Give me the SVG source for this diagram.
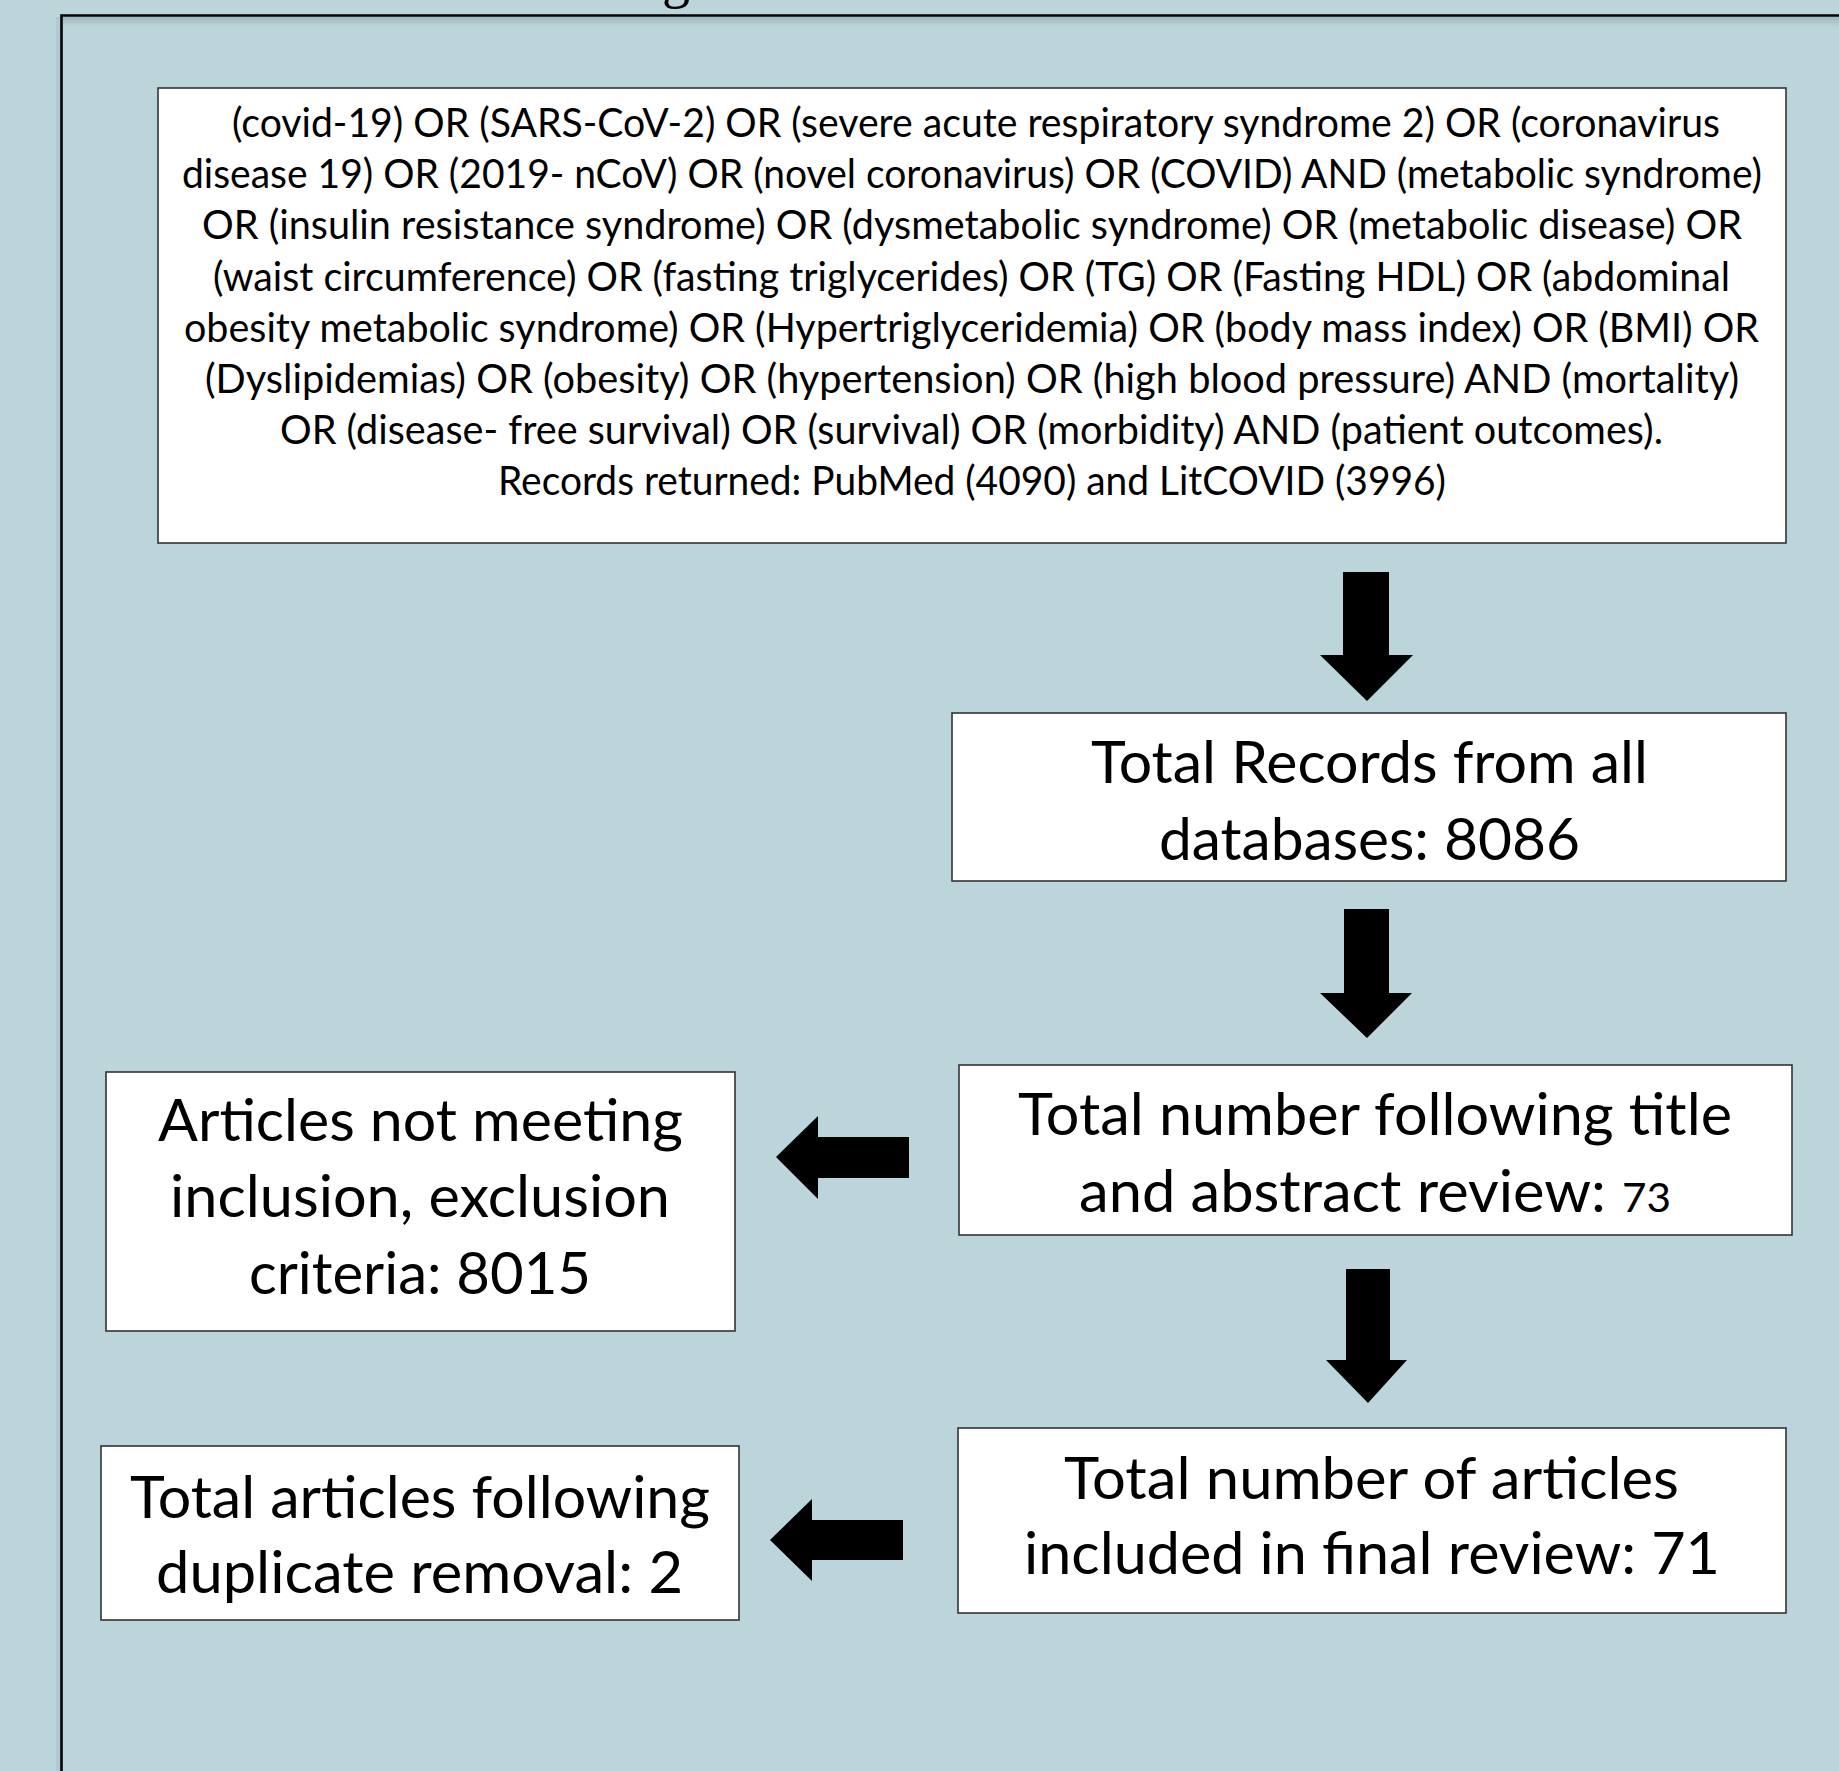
<svg xmlns="http://www.w3.org/2000/svg" width="1839" height="1771" viewBox="0 0 1839 1771">
<defs>
<linearGradient id="sh" x1="0" y1="0" x2="0" y2="1">
<stop offset="0" stop-color="#9fb6bb"/>
<stop offset="1" stop-color="#bcd5da"/>
</linearGradient>
<style>
.box{fill:#ffffff;stroke:#333333;stroke-width:1.6}
.t1{font-family:Lato,"Open Sans","DejaVu Sans",sans-serif;font-size:40px;fill:#000}
.t2{font-family:Lato,"Open Sans","DejaVu Sans",sans-serif;font-size:58px;fill:#000}
.arr{fill:#000}
</style>
</defs>
<rect x="0" y="0" width="1839" height="1771" fill="#bcd5da"/>
<text x="662" y="-3" font-family="'Liberation Serif',serif" font-size="56">g</text>
<rect x="63" y="17" width="1776" height="10" fill="url(#sh)"/>
<rect x="56" y="17" width="5" height="1754" fill="#b2cacf"/>
<path d="M61.5 1771 V15.5 H1839" fill="none" stroke="#000" stroke-width="2.6"/>

<g id="search">
<rect class="box" x="158" y="88" width="1628" height="455"/>
<text class="t1" x="232" y="137" textLength="1488" lengthAdjust="spacingAndGlyphs">(covid-19) OR (SARS-CoV-2) OR (severe acute respiratory syndrome 2) OR (coronavirus</text>
<text class="t1" x="182" y="188" textLength="1580" lengthAdjust="spacingAndGlyphs">disease 19) OR (2019- nCoV) OR (novel coronavirus) OR (COVID) AND (metabolic syndrome)</text>
<text class="t1" x="202" y="239" textLength="1540" lengthAdjust="spacingAndGlyphs">OR (insulin resistance syndrome) OR (dysmetabolic syndrome) OR (metabolic disease) OR</text>
<text class="t1" x="213" y="291" textLength="1517" lengthAdjust="spacingAndGlyphs">(waist circumference) OR (fasting triglycerides) OR (TG) OR (Fasting HDL) OR (abdominal</text>
<text class="t1" x="184" y="342" textLength="1575" lengthAdjust="spacingAndGlyphs">obesity metabolic syndrome) OR (Hypertriglyceridemia) OR (body mass index) OR (BMI) OR</text>
<text class="t1" x="205" y="393" textLength="1534" lengthAdjust="spacingAndGlyphs">(Dyslipidemias) OR (obesity) OR (hypertension) OR (high blood pressure) AND (mortality)</text>
<text class="t1" x="280" y="444" textLength="1383" lengthAdjust="spacingAndGlyphs">OR (disease- free survival) OR (survival) OR (morbidity) AND (patient outcomes).</text>
<text class="t1" x="498" y="495" textLength="948" lengthAdjust="spacingAndGlyphs">Records returned: PubMed (4090) and LitCOVID (3996)</text>
</g>

<g id="total-records">
<rect class="box" x="952" y="713" width="834" height="168"/>
<text class="t2" x="1091" y="783" textLength="557" lengthAdjust="spacingAndGlyphs">Total Records from all</text>
<text class="t2" x="1159" y="860" textLength="421" lengthAdjust="spacingAndGlyphs">databases: 8086</text>
</g>

<g id="title-abstract">
<rect class="box" x="959" y="1065" width="833" height="170"/>
<text class="t2" x="1018" y="1135" textLength="714" lengthAdjust="spacingAndGlyphs">Total number following title</text>
<text class="t2" x="1079" y="1212" textLength="527" lengthAdjust="spacingAndGlyphs">and abstract review:</text>
<text class="t1" x="1622" y="1212" textLength="49" lengthAdjust="spacingAndGlyphs">73</text>
</g>

<g id="final-review">
<rect class="box" x="958" y="1428" width="828" height="185"/>
<text class="t2" x="1064" y="1499" textLength="615" lengthAdjust="spacingAndGlyphs">Total number of articles</text>
<text class="t2" x="1024" y="1574" textLength="696" lengthAdjust="spacingAndGlyphs">included in final review: 71</text>
</g>

<g id="excluded">
<rect class="box" x="106" y="1072" width="629" height="259"/>
<text class="t2" x="158" y="1141" textLength="525" lengthAdjust="spacingAndGlyphs">Articles not meeting</text>
<text class="t2" x="170" y="1217" textLength="500" lengthAdjust="spacingAndGlyphs">inclusion, exclusion</text>
<text class="t2" x="249" y="1294" textLength="342" lengthAdjust="spacingAndGlyphs">criteria: 8015</text>
</g>

<g id="duplicates">
<rect class="box" x="101" y="1446" width="638" height="174"/>
<text class="t2" x="130" y="1518" textLength="580" lengthAdjust="spacingAndGlyphs">Total articles following</text>
<text class="t2" x="156" y="1593" textLength="527" lengthAdjust="spacingAndGlyphs">duplicate removal: 2</text>
</g>

<g id="connectors">
<polygon class="arr" points="1343,572 1389,572 1389,655 1413,655 1367,701 1320,655 1343,655"/>
<polygon class="arr" points="1344,909 1389,909 1389,993 1412,993 1367,1038 1320,993 1344,993"/>
<polygon class="arr" points="1346,1269 1390,1269 1390,1360 1407,1360 1368,1403 1326,1360 1346,1360"/>
<polygon class="arr" points="909,1137 909,1178 818,1178 818,1199 776,1157 818,1116 818,1137"/>
<polygon class="arr" points="903,1520 903,1560 812,1560 812,1581 770,1540 812,1499 812,1520"/>
</g>
</svg>
